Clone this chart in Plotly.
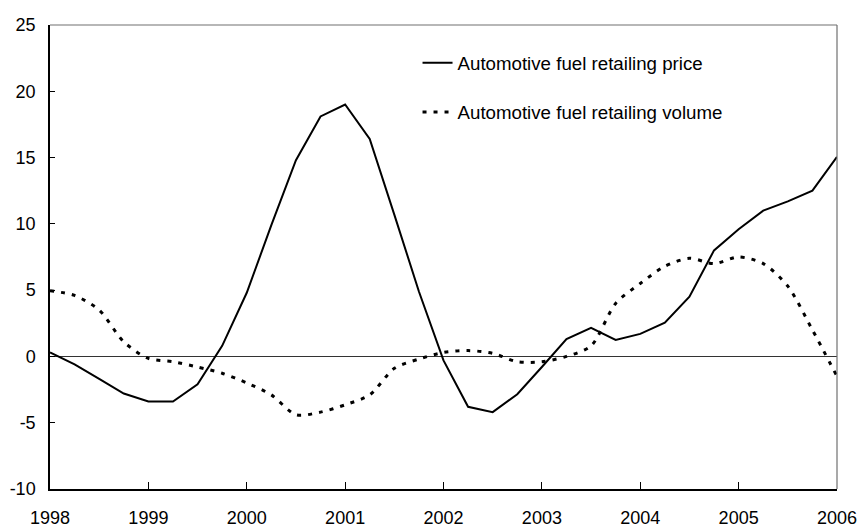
import plotly.graph_objects as go

quarters = [1998 + 0.25 * i for i in range(33)]
price = [0.3, -0.6, -1.7, -2.8, -3.4, -3.4, -2.1, 0.8,
         4.8, 9.9, 14.8, 18.1, 19.0, 16.4, 10.7, 4.9,
         -0.3, -3.8, -4.2, -2.85, -0.8, 1.3, 2.15, 1.24,
         1.7, 2.55, 4.5, 8.0, 9.6, 11.0, 11.7, 12.5, 15.05]
volume = [4.95, 4.6, 3.5, 1.1, -0.15, -0.4, -0.8, -1.27,
          -2.0, -2.9, -4.4, -4.2, -3.65, -2.9, -0.9, -0.2,
          0.3, 0.44, 0.24, -0.4, -0.4, 0.0, 0.8, 4.0,
          5.5, 6.8, 7.4, 7.0, 7.5, 7.0, 5.3, 2.0, -1.5]
year_ticks = list(range(1998, 2007))
year_labels = [str(y) for y in year_ticks]
y_ticks = [-10, -5, 0, 5, 10, 15, 20, 25]
y_labels = ["-10", "-5", "0", "5", "10", "15", "20", "25"]

FONT = "Liberation Sans, Arial, sans-serif"

fig = go.Figure()
fig.add_trace(go.Scatter(
    x=quarters, y=price, mode="lines", name="Automotive fuel retailing price",
    line=dict(color="black", width=2), legendgroup="a"))
fig.add_trace(go.Scatter(
    x=quarters, y=volume, mode="lines", name="Automotive fuel retailing volume",
    line=dict(color="black", width=3, dash="4px,7px", shape="spline", smoothing=0.8),
    legendgroup="b"))

fig.update_layout(
    width=859, height=527,
    margin=dict(l=50, r=22, t=25, b=38),
    paper_bgcolor="white", plot_bgcolor="white",
    font=dict(family=FONT, size=18, color="black"),
    showlegend=True,
    legend=dict(x=0.467, y=0.959, xanchor="left", yanchor="top",
                bgcolor="rgba(0,0,0,0)", font=dict(size=18.7),
                traceorder="grouped", tracegroupgap=22, itemwidth=30),
    xaxis=dict(range=[1998, 2006], tickvals=year_ticks, ticktext=year_labels,
               ticks="inside", ticklen=7, tickcolor="black", tickwidth=1,
               showline=True, linecolor="black", linewidth=1.5,
               showgrid=False, zeroline=False, ticklabelstandoff=12,
               automargin=False),
    yaxis=dict(range=[-10, 25], tickvals=y_ticks, ticktext=y_labels,
               ticks="inside", ticklen=5, tickcolor="black", tickwidth=1,
               showline=True, linecolor="black", linewidth=1.5,
               showgrid=False, zeroline=True, zerolinecolor="#333333",
               zerolinewidth=1.2, ticklabelstandoff=9, automargin=False),
    shapes=[
        dict(type="line", xref="paper", yref="paper", x0=0, x1=1, y0=1, y1=1,
             line=dict(color="#707070", width=1.2)),
        dict(type="line", xref="paper", yref="paper", x0=1, x1=1, y0=0, y1=1,
             line=dict(color="#707070", width=1.2)),
    ],
)

fig.write_html(
    "out.html",
    config={"displayModeBar": False},
    post_script="document.body.style.margin='0px';document.body.style.overflow='hidden';",
)
